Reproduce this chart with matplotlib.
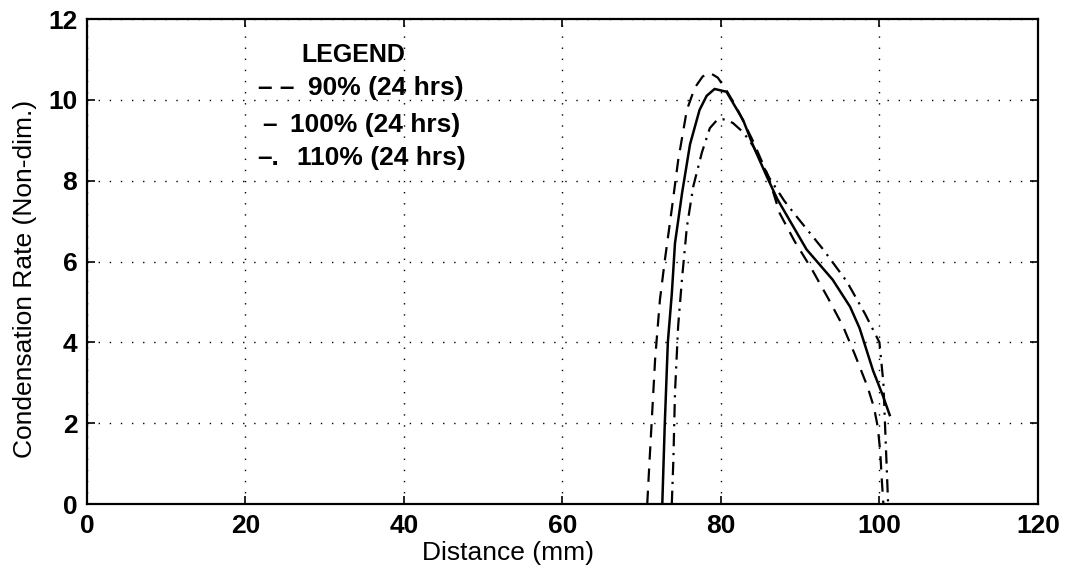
import matplotlib
matplotlib.use("Agg")
import matplotlib.pyplot as plt

x90 = [70.7, 71.0, 71.7, 72.3, 72.9, 73.8, 74.6, 75.7, 76.7, 77.7, 78.6, 79.6, 80.5, 82.0, 84.0,
       86.0, 87.4, 89.3, 91.5, 93.5, 95.4, 96.9, 98.5, 99.3, 99.8, 100.1, 100.3, 100.5]
y90 = [0.0, 1.1, 3.6, 5.05, 6.0, 7.3, 8.5, 9.75, 10.3, 10.58, 10.67, 10.55, 10.3, 9.8, 9.0,
       8.1, 7.2, 6.5, 5.8, 5.1, 4.4, 3.7, 2.9, 2.4, 1.9, 1.3, 0.6, 0.0]

x100 = [72.6, 72.9, 73.3, 73.8, 74.2, 75.1, 76.1, 77.3, 78.2, 79.2, 80.7, 82.8, 84.1, 85.8,
        87.1, 90.8, 94.1, 96.3, 97.5, 99.2, 100.4, 101.3]
y100 = [0.0, 1.9, 4.0, 5.2, 6.45, 7.7, 8.9, 9.75, 10.1, 10.27, 10.2, 9.5, 8.85, 8.1,
        7.55, 6.3, 5.55, 4.88, 4.35, 3.3, 2.7, 2.2]

x110 = [73.8, 74.0, 74.2, 74.6, 75.1, 75.7, 76.5, 77.6, 78.6, 79.5, 80.3, 81.5, 82.8, 84.1,
        86.0, 88.0, 89.6, 92.9, 95.9, 98.2, 100.0, 100.5, 100.8, 101.1]
y110 = [0.0, 1.1, 2.75, 4.4, 5.6, 6.85, 7.85, 8.7, 9.3, 9.5, 9.52, 9.43, 9.2, 8.85,
        8.1, 7.5, 7.1, 6.3, 5.5, 4.7, 4.0, 3.0, 1.5, 0.0]

xticks = [0, 20, 40, 60, 80, 100, 120]
yticks = [0, 2, 4, 6, 8, 10, 12]

# legend is plain text in the original (matlab style)
legend_keys = ["– –", "–", "–."]
legend_labels = ["90% (24 hrs)", "100% (24 hrs)", "110% (24 hrs)"]
legend_key_x = [21.6, 22.1, 21.5]
legend_lab_x = [27.9, 25.6, 26.5]
legend_y = [10.3, 9.38, 8.56]

plt.rcParams['font.family'] = 'Liberation Sans'
plt.rcParams['axes.linewidth'] = 1.6

fig = plt.figure(figsize=(10.7, 5.77), dpi=100)
ax = fig.add_axes([0.0813, 0.1265, 0.8887, 0.8405])

ax.plot(x90, y90, color='k', lw=1.6, ls=(0, (6, 4)))
ax.plot(x100, y100, color='k', lw=1.8, ls='-')
ax.plot(x110, y110, color='k', lw=1.6, ls=(0, (6, 3, 1, 3)))

ax.set_xlim(0, 120)
ax.set_ylim(0, 12)
ax.set_xticks(xticks)
ax.set_yticks(yticks)
ax.grid(True, color='k', ls=(0, (1, 7)), lw=1.0)
ax.tick_params(direction='in', top=True, right=True, length=6, width=1.2,
               labelsize=19, pad=7)
for lab in ax.get_xticklabels() + ax.get_yticklabels():
    lab.set_fontweight('bold')

ax.set_xlabel('Distance (mm)', fontsize=19)
ax.xaxis.set_label_coords(0.443, -0.076)
ax.set_ylabel('Condensation Rate (Non-dim.)', fontsize=19)
ax.yaxis.set_label_coords(-0.053, 0.465)

ax.text(27.1, 11.1, 'LEGEND', fontsize=18, fontweight='bold', va='center')
for k, lab, kx, lx, yy in zip(legend_keys, legend_labels, legend_key_x, legend_lab_x, legend_y):
    ax.text(kx, yy, k, fontsize=19, fontweight='bold', va='center')
    ax.text(lx, yy, lab, fontsize=19, fontweight='bold', va='center')

fig.savefig('out.png', dpi=100)
